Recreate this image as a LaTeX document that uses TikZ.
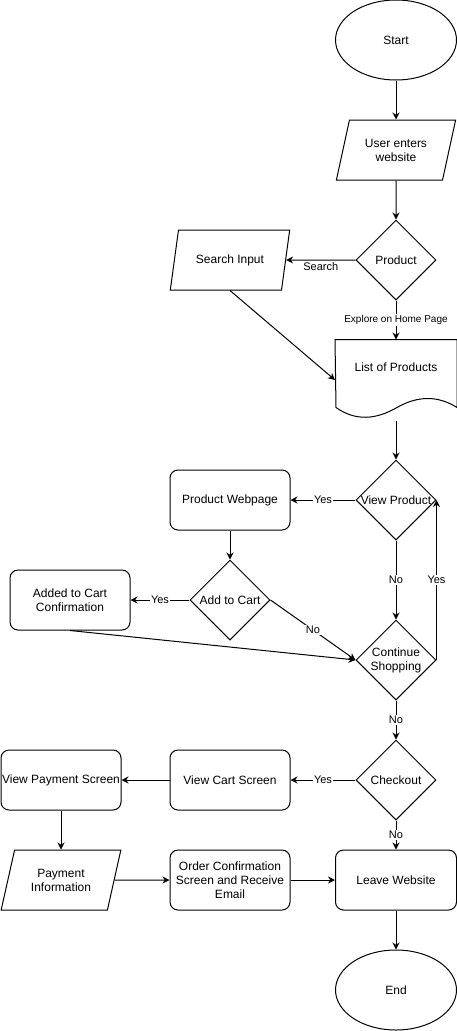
\documentclass[tikz,border=0pt]{standalone}
\usepackage{fontspec}
\setmainfont{Liberation Sans}
\usepackage{tikz}
\usetikzlibrary{shapes.geometric, arrows.meta, calc}

\begin{document}
\begin{tikzpicture}[x=1pt, y=-1pt, line width=1pt,
      every node/.style={font=\fontsize{12}{14}\selectfont},
      term/.style={ellipse, draw, minimum width=121, minimum height=80},
      io/.style={
        trapezium,
        draw,
        trapezium left angle=71.6,
        trapezium right angle=108.4,
        trapezium stretches=true,
        minimum width=120,
        minimum height=60,
        align=center
      },
      process/.style={rectangle, draw, rounded corners=8pt, minimum width=120,
        minimum height=60, inner xsep=1pt, align=center},
      decision/.style={diamond, draw, aspect=1, inner sep=0pt,
        minimum width=80, minimum height=80},
      doc/.style={rectangle, minimum width=121, minimum height=80},
      lbl/.style={fill=white, inner sep=1pt, font=\fontsize{11}{13}\selectfont},
      >={Stealth[length=7pt, width=7pt]}]

    \useasboundingbox (0,0) rectangle (457,1031);

    \node[term] (start) at (396,40) {Start};
    \node[io] (enter) at (396,150) {User enters\\website};
    \node[decision, label=center:Product] (product) at (396,260) {};
    \node[io] (search) at (230,260) {Search Input};
    \node[doc, label={[yshift=13pt]center:List of Products}] (list) at (396,380) {};
    \draw (list.north west) -- (list.north east) -- ++(0,68)
      .. controls +(-19,-12) and +(21,-12) .. ++(-60,0)
      .. controls +(-21,12) and +(20,14) .. ++(-61,0) -- cycle;

    \node[decision, label=center:View Product] (view) at (396,500) {};
    \node[process] (webpage) at (230,500) {Product Webpage};
    \node[decision, label=center:Add to Cart] (addcart) at (230,600) {};
    \node[process] (confirm) at (70,600) {Added to Cart\\Confirmation};
    \node[decision, label={[align=center]center:Continue\\Shopping}] (continue) at (396,660) {};
    \node[decision, label=center:Checkout] (checkout) at (396,780) {};
    \node[process] (cartscreen) at (230,780) {View Cart Screen};
    \node[process] (payscreen) at (61,780) {View Payment Screen};
    \node[io] (payinfo) at (61,880) {Payment\\Information};
    \node[process] (orderconf) at (230,880) {Order Confirmation\\Screen and Receive\\Email};
    \node[process, minimum width=121] (leave) at (396,880) {Leave Website};
    \node[term] (stop) at (396,990) {End};

    \draw[->] (start) -- (enter);
    \draw[->] (enter) -- (product);
    \draw[->] (product) -- node[below, inner sep=2pt, font=\fontsize{11}{13}\selectfont] {Search} (search);
    \draw[->] (product) -- node[lbl, font=\fontsize{10}{12}\selectfont] {Explore on Home Page} (list);
    \draw[->] (search.south) -- (list.west);
    \draw[->] (list) -- (view);
    \draw[->] (view) -- node[lbl] {Yes} (webpage);
    \draw[->] (webpage) -- (addcart);
    \draw[->] (addcart) -- node[lbl] {Yes} (confirm);
    \draw[->] (addcart.east) -- node[lbl] {No} (continue.west);
    \draw[->] (confirm.south) -- (continue.west);
    \draw[->] (view) -- node[lbl] {No} (continue);
    \draw[->] (continue.east) -- node[lbl] {Yes} (continue.east |- view.east);
    \draw[->] (continue) -- node[lbl] {No} (checkout);
    \draw[->] (checkout) -- node[lbl] {Yes} (cartscreen);
    \draw[->] (cartscreen) -- (payscreen);
    \draw[->] (payscreen) -- (payinfo);
    \draw[->] (payinfo) -- (orderconf);
    \draw[->] (orderconf) -- (leave);
    \draw[->] (checkout) -- node[lbl] {No} (leave);
    \draw[->] (leave) -- (stop);
  \end{tikzpicture}
\end{document}
